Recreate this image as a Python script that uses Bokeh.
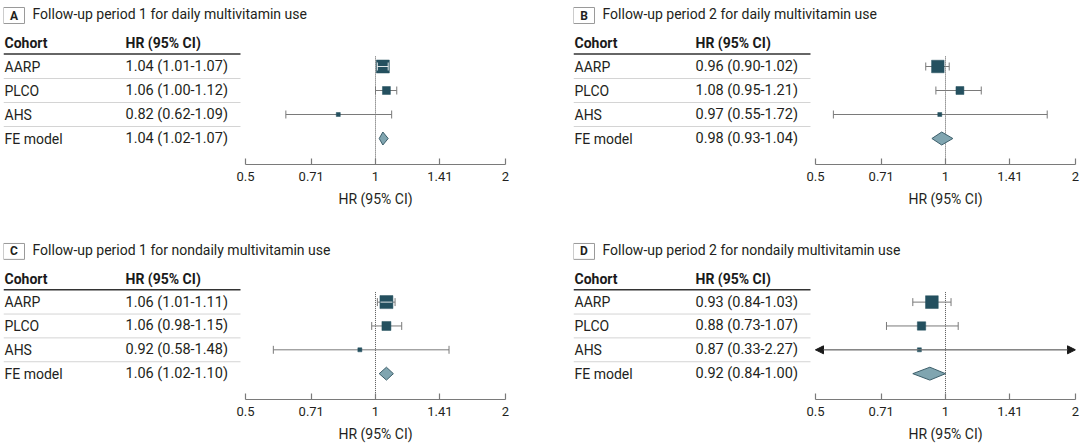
import math
from bokeh.plotting import figure
from bokeh.models import (Range1d, LinearScale, FixedTicker, Arrow, NormalHead,
                          CustomJSTickFormatter, LogAxis)
from bokeh.layouts import column, row
from bokeh.embed import file_html
from bokeh.resources import INLINE
from bokeh.core.properties import value

# ---------------- data ----------------
cohorts = ["AARP", "PLCO", "AHS", "FE model"]
panel_letters = ["A", "B", "C", "D"]
panel_titles = [
    "Follow-up period 1 for daily multivitamin use",
    "Follow-up period 2 for daily multivitamin use",
    "Follow-up period 1 for nondaily multivitamin use",
    "Follow-up period 2 for nondaily multivitamin use",
]
hr_A = [1.04, 1.06, 0.82, 1.04]
lo_A = [1.01, 1.00, 0.62, 1.02]
hi_A = [1.07, 1.12, 1.09, 1.07]
hr_B = [0.96, 1.08, 0.97, 0.98]
lo_B = [0.90, 0.95, 0.55, 0.93]
hi_B = [1.02, 1.21, 1.72, 1.04]
hr_C = [1.06, 1.06, 0.92, 1.06]
lo_C = [1.01, 0.98, 0.58, 1.02]
hi_C = [1.11, 1.15, 1.48, 1.10]
hr_D = [0.93, 0.88, 0.87, 0.92]
lo_D = [0.84, 0.73, 0.33, 0.84]
hi_D = [1.03, 1.07, 2.27, 1.00]
# relative study weights (drive marker size)
weights_A = [0.75, 0.28, 0.07]
weights_B = [0.70, 0.28, 0.07]
weights_C = [0.75, 0.36, 0.07]
weights_D = [0.72, 0.31, 0.07]
tick_values = [0.5, 0.71, 1, 1.41, 2]
null_value = 1
axis_title = "HR (95% CI)"
col_headers = ["Cohort", "HR (95% CI)"]

# ---------------- style / layout ----------------
FONT = "Roboto"
TXT = "#231f20"
SQ = "#24505f"
DIA_FILL = "#80a5b0"
DIA_LINE = "#3d5f6b"
CI = "#7a7a7a"
PXD = 130.0          # pixels per doubling of HR
AX_LEFT = 242        # panel px of HR=0.5
FRAME_W = 502
FRAME_H = 160
ROW = 24.0
Y_TOP = -62 / ROW
Y_BOT = Y_TOP + FRAME_H / ROW
X_START = 0.5 * 2 ** (-AX_LEFT / PXD)
XMIN, XMAX = tick_values[0], tick_values[-1]


def make_panel(letter, title, hr, lo, hi, weights, width, height):
    p = figure(width=width, height=height, x_axis_type="log",
               x_range=Range1d(X_START, XMAX), y_range=Range1d(Y_BOT, Y_TOP),
               y_axis_location=None, output_backend="svg", toolbar_location=None,
               min_border_left=3, min_border_top=4,
               min_border_right=width - FRAME_W - 3,
               min_border_bottom=height - FRAME_H - 4)
    p.extra_x_ranges = {"tbl": Range1d(0, FRAME_W)}
    p.extra_x_scales = {"tbl": LinearScale()}
    p.xgrid.visible = False
    p.ygrid.visible = False
    p.outline_line_color = None
    p.background_fill_color = "white"
    p.border_fill_color = "white"

    n = len(cohorts)
    rows = list(range(n))

    # panel label box + title
    p.rect(x=[10.5], y=[-2.125], width=21, height=16 / ROW, fill_color="white",
           line_color="#9a9a9a", line_width=1, x_range_name="tbl")
    p.text(x=[10.5], y=[-2.125], text=[letter], text_font=value(FONT),
           text_font_size="12px", text_font_style="bold", text_color=TXT,
           text_align="center", text_baseline="middle", x_range_name="tbl")
    p.text(x=[29], y=[-2.19], text=[title], text_font=value(FONT),
           text_font_size="14px", text_color=TXT, text_align="left",
           text_baseline="middle", x_range_name="tbl")

    # table header
    p.text(x=[1, 122], y=[-0.96, -0.96], text=col_headers, text_font=value(FONT),
           text_font_size="14px", text_font_style="bold", text_color="#1a1a1a",
           text_align="left", text_baseline="middle", x_range_name="tbl")
    p.segment(x0=[0], x1=[237], y0=[-0.52], y1=[-0.52], line_color="#333333",
              line_width=1.5, x_range_name="tbl")
    # row separators
    seps = [r + 0.5 for r in rows[:-1]]
    p.segment(x0=[0] * len(seps), x1=[237] * len(seps), y0=seps, y1=seps,
              line_color="#d4d4d4", line_width=1, x_range_name="tbl")
    # table rows
    labels = [f"{h:.2f} ({l:.2f}-{u:.2f})" for h, l, u in zip(hr, lo, hi)]
    p.text(x=[1] * n, y=rows, text=cohorts, text_font=value(FONT),
           text_font_size="14px", text_color=TXT, text_align="left",
           text_baseline="middle", x_range_name="tbl")
    p.text(x=[122] * n, y=rows, text=labels, text_font=value(FONT),
           text_font_size="14.5px", text_color=TXT, text_align="left",
           text_baseline="middle", x_range_name="tbl")

    # reference line at HR = 1
    p.segment(x0=[null_value], x1=[null_value], y0=[-0.42], y1=[Y_BOT],
              line_color="#555555", line_width=1, line_dash="1 1")

    # study CIs
    cap = 4 / ROW
    st = rows[:-1]
    x0 = [max(l, XMIN) for l in lo[:-1]]
    x1 = [min(u, XMAX) for u in hi[:-1]]
    p.segment(x0=x0, x1=x1, y0=st, y1=st, line_color=CI, line_width=1)
    cx, cy = [], []
    for i in st:
        if lo[i] >= XMIN:
            cx.append(lo[i]); cy.append(i)
        if hi[i] <= XMAX:
            cx.append(hi[i]); cy.append(i)
    p.segment(x0=cx, x1=cx, y0=[c - cap for c in cy], y1=[c + cap for c in cy],
              line_color=CI, line_width=1)
    for i in st:
        if lo[i] < XMIN:
            p.add_layout(Arrow(end=NormalHead(size=8, fill_color="#1a1a1a",
                                              line_color="#1a1a1a"),
                               x_start=hr[i], y_start=i, x_end=XMIN, y_end=i,
                               line_color=CI, line_width=1))
        if hi[i] > XMAX:
            p.add_layout(Arrow(end=NormalHead(size=8, fill_color="#1a1a1a",
                                              line_color="#1a1a1a"),
                               x_start=hr[i], y_start=i, x_end=XMAX, y_end=i,
                               line_color=CI, line_width=1))

    # study squares
    sizes = [max(4.0, 15.0 * math.sqrt(w)) for w in weights]
    p.scatter(x=hr[:-1], y=st, marker="square", size=sizes, fill_color=SQ,
              line_color=SQ, line_width=0.5)
    # CI drawn in white where it sits inside a large box
    for i in st:
        half = sizes[i] / 2
        lpx = math.log2(hr[i] / lo[i]) * PXD
        upx = math.log2(hi[i] / hr[i]) * PXD
        if lpx <= half + 3.5 and upx <= half + 3.5:
            bl = hr[i] * 2 ** (-(half - 0.5) / PXD)
            br = hr[i] * 2 ** ((half - 0.5) / PXD)
            p.segment(x0=[max(lo[i], bl)], x1=[min(hi[i], br)], y0=[i], y1=[i],
                      line_color="white", line_width=1, line_alpha=0.85)
            wx = [v for v in (lo[i], hi[i]) if bl <= v <= br]
            if wx:
                hh = min(cap, (half - 1) / ROW)
                p.segment(x0=wx, x1=wx, y0=[i - hh] * len(wx), y1=[i + hh] * len(wx),
                          line_color="white", line_width=1, line_alpha=0.85)

    # pooled diamond
    f = rows[-1]
    dh = 6.5 / ROW
    p.patch(x=[lo[f], hr[f], hi[f], hr[f]], y=[f, f - dh, f, f + dh],
            fill_color=DIA_FILL, line_color=DIA_LINE, line_width=1)

    # axis
    ax = p.xaxis[0]
    ax.ticker = FixedTicker(ticks=tick_values, minor_ticks=[])
    ax.formatter = CustomJSTickFormatter(code="return String(tick);")
    ax.bounds = (XMIN, XMAX)
    ax.axis_line_color = "#7a7a7a"
    ax.axis_line_width = 1.2
    ax.major_tick_line_color = "#7a7a7a"
    ax.major_tick_line_width = 1.2
    ax.major_tick_in = 6
    ax.major_tick_out = 0
    ax.minor_tick_line_color = None
    ax.major_label_standoff = 7
    ax.major_label_text_font = FONT
    ax.major_label_text_font_size = "13px"
    ax.major_label_text_color = TXT

    # axis title centred on HR = 1: a second, rule-less axis with one labelled tick
    ax2 = LogAxis(ticker=FixedTicker(ticks=[null_value], minor_ticks=[]),
                  formatter=CustomJSTickFormatter(args=dict(t=axis_title),
                                                  code="return t;"),
                  axis_line_color=None, major_tick_line_color=None,
                  minor_tick_line_color=None, major_tick_in=0, major_tick_out=0,
                  major_label_standoff=7, major_label_text_font=FONT,
                  major_label_text_font_size="14px", major_label_text_color=TXT)
    p.add_layout(ax2, "below")
    return p


pA = make_panel("A", panel_titles[0], hr_A, lo_A, hi_A, weights_A, 570, 236)
pB = make_panel("B", panel_titles[1], hr_B, lo_B, hi_B, weights_B, 510, 236)
pC = make_panel("C", panel_titles[2], hr_C, lo_C, hi_C, weights_C, 570, 208)
pD = make_panel("D", panel_titles[3], hr_D, lo_D, hi_D, weights_D, 510, 208)

layout = column(row(pA, pB), row(pC, pD))
open("out.html", "w").write(file_html(layout, INLINE))
